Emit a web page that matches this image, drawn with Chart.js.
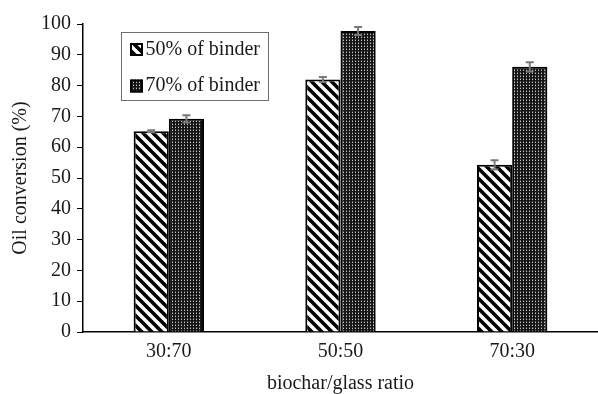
<!DOCTYPE html>
<html>
<head>
<meta charset="utf-8">
<script src="https://cdn.jsdelivr.net/npm/chart.js@4/dist/chart.umd.min.js"></script>
<style>
  html, body { margin: 0; padding: 0; background: #ffffff; }
  #wrap { width: 598px; height: 394px; position: relative; }
</style>
</head>
<body>
<div id="wrap"><canvas id="chart" width="598" height="394"></canvas></div>
<script>
// Oil conversion by biochar/glass ratio, two binder contents
const categories = ['30:70', '50:50', '70:30'];
const seriesNames = ['50% of binder', '70% of binder'];
const binder50 = [65.2, 82.0, 54.3];
const binder70 = [69.2, 97.7, 86.1];
const binder50Err = [0.3, 0.8, 1.5];
const binder70Err = [1.2, 1.3, 1.5];
const yTicks = [0, 10, 20, 30, 40, 50, 60, 70, 80, 90, 100];

const FONT = '"Liberation Serif", "Times New Roman", serif';

// Diagonal hatch fill (black stripes on white)
function hatchPattern() {
  const c = document.createElement('canvas');
  c.width = 10; c.height = 10;
  const g = c.getContext('2d');
  g.fillStyle = '#ffffff';
  g.fillRect(0, 0, 10, 10);
  g.strokeStyle = '#000000';
  g.lineWidth = 3.6;
  g.beginPath();
  g.moveTo(-5, -5); g.lineTo(15, 15);
  g.moveTo(-15, -5); g.lineTo(5, 15);
  g.moveTo(5, -5); g.lineTo(25, 15);
  g.stroke();
  return g.createPattern(c, 'repeat');
}

// Dense dot fill (light dots on black)
function dotPattern() {
  const c = document.createElement('canvas');
  c.width = 3; c.height = 3;
  const g = c.getContext('2d');
  g.fillStyle = '#161616';
  g.fillRect(0, 0, 3, 3);
  g.fillStyle = '#c8c8c8';
  g.fillRect(1, 1, 1, 1);
  g.fillStyle = '#5a5a5a';
  g.fillRect(1, 0, 1, 1);
  return g.createPattern(c, 'repeat');
}

const fills = [hatchPattern(), dotPattern()];
const errors = [binder50Err, binder70Err];

// Error bars drawn from the bar elements and the y scale
const errorBars = {
  id: 'errorBars',
  afterDatasetsDraw(chart) {
    const ctx = chart.ctx;
    const y = chart.scales.y;
    ctx.save();
    ctx.strokeStyle = '#7a7a7a';
    ctx.lineWidth = 2;
    chart.data.datasets.forEach((ds, di) => {
      const meta = chart.getDatasetMeta(di);
      meta.data.forEach((bar, i) => {
        const v = ds.data[i];
        const e = errors[di][i];
        const top = y.getPixelForValue(v + e);
        const bot = y.getPixelForValue(v - e);
        const x = bar.x;
        ctx.beginPath();
        ctx.moveTo(x, top); ctx.lineTo(x, bot);
        ctx.moveTo(x - 4, top); ctx.lineTo(x + 4, top);
        ctx.moveTo(x - 4, bot); ctx.lineTo(x + 4, bot);
        ctx.stroke();
      });
    });
    ctx.restore();
  }
};

// Boxed legend inside the plot area
const boxLegend = {
  id: 'boxLegend',
  afterDraw(chart) {
    const ctx = chart.ctx;
    ctx.save();
    ctx.strokeStyle = '#6e6e6e';
    ctx.lineWidth = 1;
    ctx.strokeRect(121.5, 32.5, 147, 68);
    const rows = [49.5, 86];
    rows.forEach((cy, i) => {
      ctx.fillStyle = fills[i];
      ctx.fillRect(130, cy - 6.5, 13, 13);
      ctx.strokeStyle = '#000000';
      ctx.lineWidth = 2;
      ctx.strokeRect(131, cy - 5.5, 11, 11);
      ctx.fillStyle = '#1a1a1a';
      ctx.font = '20px ' + FONT;
      ctx.textBaseline = 'middle';
      ctx.textAlign = 'left';
      ctx.fillText(seriesNames[i], 145.5, cy);
    });
    ctx.restore();
  }
};

new Chart(document.getElementById('chart'), {
  type: 'bar',
  data: {
    labels: categories,
    datasets: [
      { label: seriesNames[0], data: binder50, backgroundColor: fills[0], borderColor: '#000000', borderWidth: 2 },
      { label: seriesNames[1], data: binder70, backgroundColor: fills[1], borderColor: '#000000', borderWidth: 2 }
    ]
  },
  options: {
    responsive: false,
    animation: false,
    devicePixelRatio: 1,
    categoryPercentage: 0.41,
    barPercentage: 1.0,
    layout: { padding: { top: 24, right: 0, bottom: 0, left: 0 } },
    plugins: {
      legend: { display: false },
      tooltip: { enabled: false }
    },
    scales: {
      x: {
        grid: { display: false, drawTicks: false },
        border: { display: true, color: '#000000', width: 1.5 },
        ticks: { color: '#1a1a1a', font: { family: FONT, size: 20 }, padding: 8 },
        title: {
          display: true, text: 'biochar/glass ratio', color: '#1a1a1a',
          font: { family: FONT, size: 20, lineHeight: 1.0 }, padding: { top: 0, bottom: 0 }
        },
        afterFit(scale) { scale.height = 62; }
      },
      y: {
        min: 0, max: 100,
        afterBuildTicks(scale) { scale.ticks = yTicks.map(v => ({ value: v })); },
        grid: { drawOnChartArea: false, drawTicks: true, tickLength: 6, color: '#000000', lineWidth: 1 },
        border: { display: true, color: '#000000', width: 1.5 },
        ticks: { color: '#1a1a1a', font: { family: FONT, size: 20 }, padding: 6 },
        title: {
          display: true, text: 'Oil conversion (%)', color: '#1a1a1a',
          font: { family: FONT, size: 20, lineHeight: 1.2 }, padding: { top: 9, bottom: 0 }
        },
        afterFit(scale) { scale.width = 83; }
      }
    }
  },
  plugins: [errorBars, boxLegend]
});
</script>
</body>
</html>
